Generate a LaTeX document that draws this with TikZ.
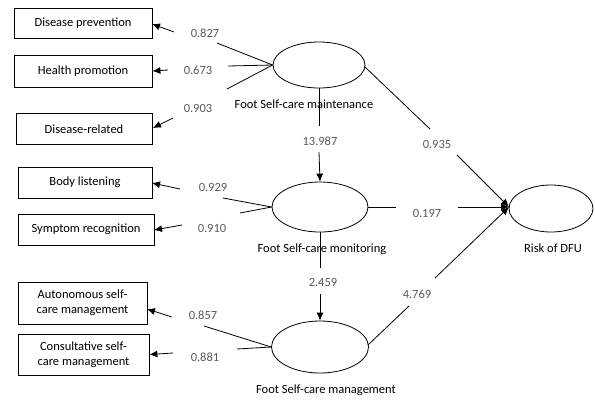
\documentclass[tikz,border=0pt]{standalone}
\usepackage{fontspec}
\setmainfont{Carlito}
\usetikzlibrary{arrows.meta,shapes.geometric}
\begin{document}
\begin{tikzpicture}[x=1pt,y=-1pt,
  box/.style={draw, line width=0.8pt, inner sep=0pt, align=center, font=\fontsize{12.5}{15}\selectfont},
  lat/.style={draw, ellipse, line width=0.8pt, inner sep=0pt},
  num/.style={text=black!65, font=\fontsize{12.5}{15}\selectfont, inner sep=1pt},
  captext/.style={font=\fontsize{12.5}{15}\selectfont, inner sep=1pt},
  ln/.style={line width=0.8pt},
  arr/.style={line width=0.8pt, -{Latex[length=8pt,width=7pt]}}]
\useasboundingbox (0,0) rectangle (595,400);
% indicator boxes
\node[box, minimum width=138, minimum height=30] (dp) at (83,23) {Disease prevention};
\node[box, minimum width=138, minimum height=32] (hp) at (83,71) {Health promotion};
\node[box, minimum width=136, minimum height=31] (dr) at (84,129) {Disease-related};
\node[box, minimum width=134, minimum height=31] (bl) at (85,182.5) {Body listening};
\node[box, minimum width=136, minimum height=31] (sr) at (86,229.5) {Symptom recognition};
\node[box, minimum width=129, minimum height=42] (am) at (82.5,303) {Autonomous self-\\care management};
\node[box, minimum width=131, minimum height=41] (cm) at (83.5,354.5) {Consultative self-\\care management};
% latent variables
\node[lat, minimum width=92, minimum height=46] (mt) at (319,65) {};
\node[lat, minimum width=96, minimum height=50] (mo) at (320,207) {};
\node[lat, minimum width=97, minimum height=52] (mg) at (320,347) {};
\node[lat, minimum width=84, minimum height=47] (rk) at (551,208.5) {};
% captions
\node[captext] (cmt) at (304,104) {Foot Self-care maintenance};
\node[captext] (cmo) at (322,249) {Foot Self-care monitoring};
\node[captext] (cmg) at (326,390) {Foot Self-care management};
\node[captext] (crk) at (553,248) {Risk of DFU};
% numbers
\node[num] (n1) at (205,33) {0.827};
\node[num] (n2) at (198,70) {0.673};
\node[num] (n3) at (198,108) {0.903};
\node[num] (n4) at (320,141) {13.987};
\node[num] (n5) at (437,144) {0.935};
\node[num] (n6) at (213,187) {0.929};
\node[num] (n7) at (212,228) {0.910};
\node[num] (n8) at (427,213) {0.197};
\node[num] (n9) at (323,282) {2.459};
\node[num] (n10) at (417,294) {4.769};
\node[num] (n11) at (203,315) {0.857};
\node[num] (n12) at (205,357) {0.881};
% break coordinates
\coordinate (a1) at (217,43);  \coordinate (b1) at (174,32);
\coordinate (a2) at (228,66);  \coordinate (b2) at (168,70);
\coordinate (a3) at (227,89);  \coordinate (b3) at (173,118);
\coordinate (a4) at (319,126); \coordinate (b4) at (319,152);
\coordinate (a5) at (430,129); \coordinate (b5) at (457,155);
\coordinate (a6) at (223,198); \coordinate (b6) at (180,189);
\coordinate (a7) at (240,213); \coordinate (b7) at (182,225);
\coordinate (a8) at (396,207); \coordinate (b8) at (458,207);
\coordinate (a9) at (320,268); \coordinate (b9) at (320,294);
\coordinate (a10) at (409,306); \coordinate (b10) at (435,278);
\coordinate (a11) at (204,326); \coordinate (b11) at (172,317);
\coordinate (a12) at (237,349); \coordinate (b12) at (173,353);
\coordinate (tip) at (509,207);
% maintenance
\draw[ln] (mt.west) -- (a1); \draw[arr] (b1) -- (152,24);
\draw[ln] (mt.west) -- (a2); \draw[arr] (b2) -- (hp.east);
\draw[ln] (mt.west) -- (a3); \draw[arr] (b3) -- (153,128);
\draw[ln] (mt.south) -- (a4); \draw[arr] (b4) -- (mo.north);
\draw[ln] (365,67) -- (a5); \draw[arr] (b5) -- (tip);
% monitoring
\draw[ln] (mo.west) -- (a6); \draw[arr] (b6) -- (152,183);
\draw[ln] (mo.west) -- (a7); \draw[arr] (b7) -- (154,230);
\draw[ln] (mo.east) -- (a8); \draw[arr] (b8) -- (tip);
\draw[ln] (mo.south) -- (a9); \draw[arr] (b9) -- (mg.north);
% management
\draw[ln] (mg.west) -- (a11); \draw[arr] (b11) -- (147,309);
\draw[ln] (mg.west) -- (a12); \draw[arr] (b12) -- (cm.east);
\draw[ln] (368,345) -- (a10); \draw[arr] (b10) -- (tip);
\end{tikzpicture}
\end{document}
